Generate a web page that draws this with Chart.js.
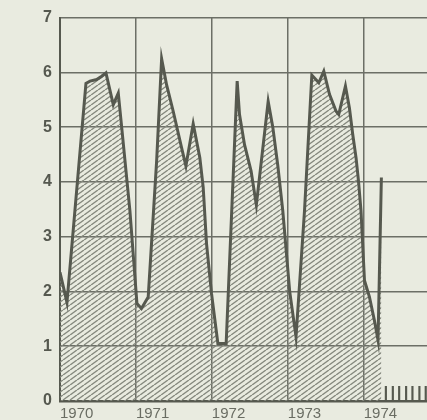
<!DOCTYPE html>
<html>
<head>
<meta charset="utf-8">
<script src="https://cdn.jsdelivr.net/npm/chart.js@4.4.0/dist/chart.umd.min.js"></script>
<style>
  html, body { margin: 0; padding: 0; background: #e9ebe0; }
  #wrap { width: 427px; height: 420px; position: relative; }
</style>
</head>
<body>
<div id="wrap"><canvas id="chart"></canvas></div>
<script>
// x = months since Jan 1970
const months = [0, 1.1, 4.1, 4.74, 5.8, 6.58, 7.26, 8.42, 9.21, 9.79, 11.05, 12.16, 12.87,
  13.94, 15.27, 16.06, 16.85, 17.89, 19.22, 19.9, 21.05, 22.1, 22.63, 23.16, 23.95, 24.95,
  26.26, 28.0, 28.37, 29.16, 30.2, 31.03, 32.9, 33.63, 34.42, 35.21, 36.3, 37.3, 38.64,
  39.8, 40.9, 41.69, 42.59, 43.63, 44.05, 45.11, 45.74, 46.26, 46.79, 47.17, 47.57, 48.12,
  48.9, 49.69, 50.26, 50.79];
const values = [2.35, 1.8, 5.8, 5.84, 5.87, 5.93, 5.99, 5.41, 5.62, 4.95, 3.47, 1.78, 1.69,
  1.9, 4.38, 6.25, 5.77, 5.29, 4.62, 4.29, 5.06, 4.44, 3.9, 2.87, 1.96, 1.05,
  1.05, 5.84, 5.23, 4.68, 4.2, 3.58, 5.47, 5.0, 4.3, 3.47, 2.0, 1.17, 3.47,
  5.95, 5.81, 6.02, 5.6, 5.29, 5.23, 5.75, 5.35, 4.87, 4.44, 4.02, 3.47, 2.2,
  1.9, 1.47, 1.11, 4.08];

// small tick comb along the bottom after 1974
const combMonths = [51.5, 52.6, 53.6, 54.7, 55.7, 56.8, 57.8];
const combValues = [0.27, 0.27, 0.27, 0.27, 0.27, 0.27, 0.27];

const yearTicks = [0, 12, 24, 36, 48];
const yearLabels = ['1970', '1971', '1972', '1973', '1974'];

const ink = '#56594f';

// diagonal "///" hatch, a bit flatter than 45 degrees
function makeHatch(color) {
    const w = 7, h = 5;
    const c = document.createElement('canvas');
    c.width = w; c.height = h;
    const g = c.getContext('2d');
    g.strokeStyle = color;
    g.lineWidth = 1.4;
    g.beginPath();
    g.moveTo(0, h); g.lineTo(w, 0);
    g.moveTo(-w, h); g.lineTo(0, 0);
    g.moveTo(w, h); g.lineTo(2 * w, 0);
    g.stroke();
    return g.createPattern(c, 'repeat');
}

const ctx = document.getElementById('chart').getContext('2d');
new Chart(ctx, {
    type: 'line',
    data: {
        datasets: [{
            data: months.map((m, i) => ({ x: m, y: values[i] })),
            borderColor: ink,
            borderWidth: 3,
            backgroundColor: makeHatch('#85887e'),
            fill: 'origin',
            pointRadius: 0,
            tension: 0,
            borderJoinStyle: 'miter'
        }, {
            type: 'bar',
            data: combMonths.map((m, i) => ({ x: m, y: combValues[i] })),
            backgroundColor: ink,
            barThickness: 1.5
        }]
    },
    options: {
        responsive: true,
        maintainAspectRatio: false,
        animation: false,
        layout: { padding: { top: 15, right: 0, left: 0, bottom: 0 } },
        plugins: { legend: { display: false }, tooltip: { enabled: false } },
        scales: {
            x: {
                type: 'linear',
                min: 0,
                max: 58,
                offset: false,
                afterBuildTicks: s => { s.ticks = yearTicks.map(v => ({ value: v })); },
                afterFit: s => { s.height = 19; },
                grid: { color: '#6c6f66', lineWidth: 1.5, drawTicks: false, offset: false },
                border: { color: ink, width: 2.5 },
                ticks: {
                    align: 'start',
                    padding: 4,
                    color: '#6a6d63',
                    font: { family: 'Liberation Sans', size: 15 },
                    callback: v => yearLabels[yearTicks.indexOf(v)]
                }
            },
            y: {
                min: 0,
                max: 7,
                afterFit: s => { s.width = 60; },
                grid: { color: '#6c6f66', lineWidth: 1.5, drawTicks: false },
                border: { color: ink, width: 2 },
                ticks: {
                    stepSize: 1,
                    padding: 8,
                    color: '#55584f',
                    font: { family: 'Liberation Sans', size: 16, weight: 'bold' }
                }
            }
        }
    }
});
</script>
</body>
</html>
